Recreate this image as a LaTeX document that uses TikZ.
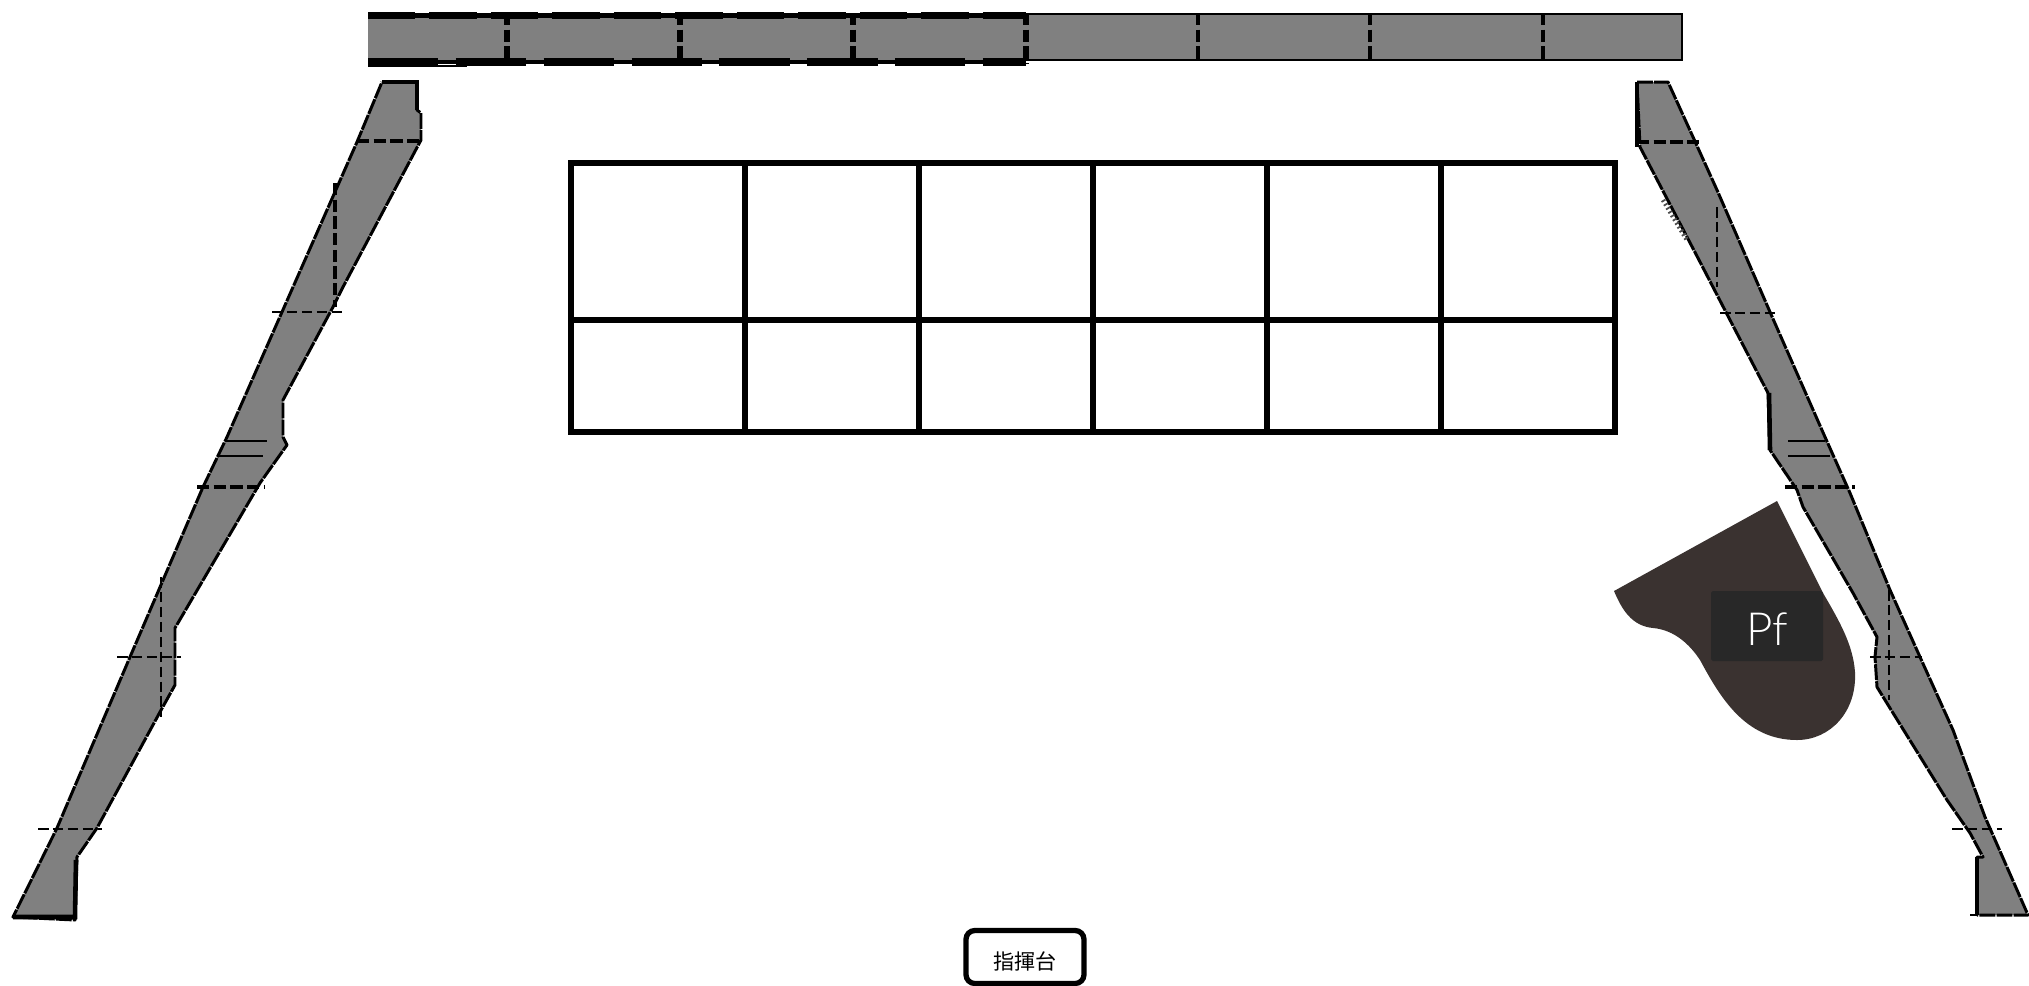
\documentclass[tikz,border=0pt]{standalone}
\usepackage{fontspec}
\setmainfont{Lato}
\newfontfamily\cjkfont{Noto Sans CJK JP}
\newfontfamily\pffont{Lato Light}
\usepackage{xcolor}
\usetikzlibrary{positioning}
\definecolor{wallgray}{HTML}{808080}
\definecolor{pianobrown}{HTML}{3A3230}
\definecolor{labeldark}{HTML}{282828}
\begin{document}
\begin{tikzpicture}[
	x=0.02cm, y=-0.02cm,
	wing/.style={draw=black, fill=wallgray, line width=1.7pt, dash pattern=on 9pt off 0.7pt, line join=round},
	edgeheavy/.style={draw=black, line width=2.6pt},
	cutthick/.style={draw=black, line width=2.5pt, dash pattern=on 7pt off 2.5pt},
	cutthin/.style={draw=black, line width=1.4pt, dash pattern=on 6pt off 2.5pt},
	rail/.style={draw=black, line width=1.4pt},
	seat/.style={draw=black, line width=3.3pt},
	stand/.style={draw=black, line width=3pt, rounded corners=5pt, fill=white, minimum width=2.36cm, minimum height=1.06cm, inner sep=0pt},
	pfbox/.style={fill=labeldark, rounded corners=1pt, minimum width=2.24cm, minimum height=1.4cm, inner sep=0pt}
	]
	\useasboundingbox (0,0) rectangle (2029,985);
	% back wall
	\fill[wallgray] (368,14) rectangle (1682,61);
	\draw[line width=1.5pt] (1026,14) -- (1682,14) -- (1682,60) -- (1026,60);
	\draw[line width=2.8pt] (368,15.5) -- (1026,15.5);
	\draw[line width=2.8pt] (368,62) -- (1026,62);
	\draw[line width=4pt, dash pattern=on 27pt off 8pt] (368,15.5) -- (1026,15.5);
	\draw[line width=4.3pt, dash pattern=on 40pt off 10pt] (368,62) -- (1026,62);
	\draw[line width=1.2pt] (368,66) -- (467,66);
	\foreach \xpos in {507,680,853,1026}
		\draw[cutthick, line width=3.2pt] (\xpos,13) -- (\xpos,64);
	\foreach \xpos in {1198,1370,1543}
		\draw[cutthick] (\xpos,13) -- (\xpos,61);
	% left wing
	\path[wing] (382,82) -- (417,82) -- (417,110) -- (421,113) -- (421,140) -- (343,287) -- (333,307)
		-- (283,400) -- (283,437) -- (287,445) -- (260,483) -- (175,628) -- (175,685) -- (160,712)
		-- (97,828) -- (77,857) -- (75,920) -- (13,917) -- (57,828) -- (130,657) -- (203,487)
		-- (227,437) -- (282,312) -- (357,142) -- cycle;
	\draw[edgeheavy] (382,82) -- (417,82) -- (417,110);
	\draw[edgeheavy] (13,917) -- (75,917) -- (76,860);
	\draw[cutthick] (357,141) -- (423,141);
	\draw[cutthick] (335,183) -- (335,307);
	\draw[cutthin] (272,312) -- (343,312);
	\draw[rail] (226,441) -- (267,441);
	\draw[rail] (219,456) -- (263,456);
	\draw[cutthick] (197,487) -- (265,487);
	\draw[cutthin] (161,577) -- (161,717);
	\draw[cutthin] (117,657) -- (181,657);
	\draw[cutthin] (38,829) -- (102,829);
	% right wing
	\path[wing] (1637,82) -- (1668,82) -- (1693,137) -- (1717,190) -- (1770,312) -- (1803,387)
		-- (1825,437) -- (1850,493) -- (1890,590) -- (1920,657) -- (1953,730) -- (1985,817)
		-- (2028,915) -- (1977,915) -- (1977,857) -- (1983,857) -- (1970,833) -- (1947,800)
		-- (1893,713) -- (1877,687) -- (1875,657) -- (1877,637) -- (1853,593) -- (1803,507)
		-- (1797,490) -- (1770,450) -- (1768,393) -- (1730,320) -- (1699,260) -- (1640,147) -- cycle;
	\draw[edgeheavy] (1637,82) -- (1637,147);
	\draw[edgeheavy] (1769,393) -- (1770,450);
	\draw[edgeheavy] (1977,857) -- (1977,915);
	\draw[cutthick] (1637,142) -- (1703,142);
	\draw[cutthin] (1717,207) -- (1717,287);
	\draw[cutthin] (1720,313) -- (1778,313);
	\draw[rail] (1788,441) -- (1825,441);
	\draw[rail] (1788,456) -- (1830,456);
	\draw[cutthick] (1785,487) -- (1855,487);
	\draw[cutthin] (1889,590) -- (1889,700);
	\draw[cutthin] (1870,657) -- (1922,657);
	\draw[cutthin] (1952,829) -- (2002,829);
	\draw[line width=1.4pt] (1970,915) -- (1977,915);
	% hatching on the inner edge
	\draw[black!70, line width=2.6pt, dash pattern=on 1pt off 1.5pt] (1663,200) -- (1687,240);
	% choir seats
	\draw[seat] (571,163) rectangle (1615,432);
	\draw[seat] (571,320) -- (1615,320);
	\foreach \xpos in {745,919,1093,1267,1441}
		\draw[seat] (\xpos,163) -- (\xpos,432);
	% piano
	\fill[pianobrown] (1777,501) -- (1614,591) .. controls (1622,610) and (1632,626) .. (1653,628)
		.. controls (1675,630) and (1690,645) .. (1700,660) .. controls (1720,697) and (1745,740) .. (1797,740)
		.. controls (1830,740) and (1857,712) .. (1855,672) .. controls (1853,645) and (1840,622) .. (1823,593) -- cycle;
	\node[pfbox] (pfback) at (1767,626) {};
	\node[text=white, font=\pffont\fontsize{26}{27}\selectfont] (pftext) at (1767,629) {Pf};
	% conductor
	\node[stand] (podium) at (1025,957) {};
	\node[font=\cjkfont\fontsize{12}{12}\selectfont] (podiumtext) at (1025,961) {指揮台};
\end{tikzpicture}
\end{document}
